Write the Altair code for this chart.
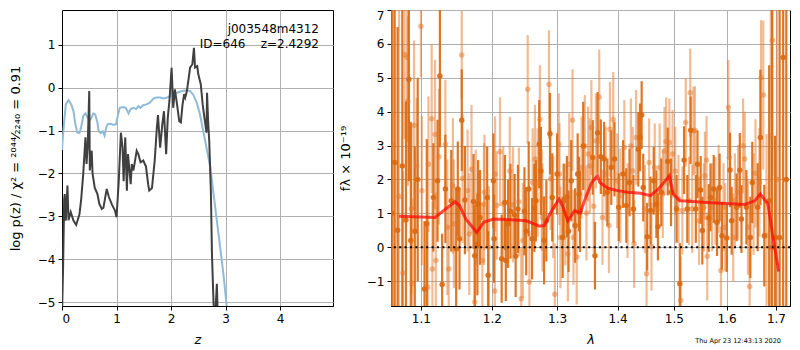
import altair as alt
import pandas as pd

# ---------------- left panel: redshift probability ----------------
z_black = [0.0, 0.02, 0.04, 0.05, 0.07, 0.10, 0.12, 0.16, 0.21, 0.26, 0.32, 0.35, 0.39, 0.43, 0.45,
           0.47, 0.50, 0.51, 0.545, 0.56, 0.60, 0.65, 0.685, 0.73, 0.76, 0.82, 0.86, 0.92, 0.97, 1.0,
           1.04, 1.08, 1.11, 1.13, 1.16, 1.19, 1.21, 1.26, 1.28, 1.31, 1.37, 1.40, 1.44, 1.49, 1.54,
           1.58, 1.60, 1.65, 1.70, 1.74, 1.76, 1.80, 1.84, 1.87, 1.91, 1.94, 1.97, 2.01, 2.04, 2.07,
           2.11, 2.15, 2.18, 2.21, 2.24, 2.26, 2.29, 2.32, 2.35, 2.39, 2.42, 2.44, 2.48, 2.50, 2.545,
           2.58, 2.62, 2.65, 2.66, 2.68, 2.70, 2.73, 2.75, 2.78, 2.80, 2.84, 2.86, 2.90, 3.0]
p_black = [-5.3, -4.2, -2.6, -2.48, -3.1, -2.28, -3.09, -2.9, -3.1, -3.2, -2.95, -2.63, -2.0, -1.16, -1.78,
           -1.40, -0.08, -1.93, -1.47, -2.0, -2.33, -2.48, -2.71, -2.83, -2.8, -2.36, -2.55, -2.74, -2.86, -3.02,
           -2.2, -1.05, -1.39, -2.18, -1.16, -2.4, -1.55, -2.25, -1.78, -1.93, -1.47, -1.55, -1.74, -1.70, -1.84,
           -2.25, -2.40, -2.34, -1.70, -0.93, -0.64, -1.40, -0.85, -0.55, -1.55, -0.70, -0.31, 0.46, -0.47, -0.04,
           -0.39, -0.78, -0.81, -0.40, -0.15, -0.23, -0.08, 0.19, 0.47, 0.54, 0.93, 0.47, 0.5, 0.31, 0.08,
           -0.39, -0.78, -1.05, -0.12, -0.78, -1.24, -2.40, -3.88, -5.04, -5.6, -4.57, -5.5, -7.0, -9.0]

z_blue = [0.0, 0.01, 0.04, 0.07, 0.12, 0.17, 0.21, 0.245, 0.28, 0.32, 0.35, 0.39, 0.43, 0.47, 0.50,
          0.54, 0.575, 0.61, 0.65, 0.67, 0.71, 0.75, 0.78, 0.81, 0.84, 0.89, 0.94, 0.99, 1.03, 1.06,
          1.12, 1.17, 1.22, 1.26, 1.31, 1.36, 1.40, 1.44, 1.49, 1.55, 1.61, 1.68, 1.74, 1.80, 1.86,
          1.93, 1.99, 2.05, 2.11, 2.17, 2.23, 2.29, 2.35, 2.41, 2.47, 2.53, 2.59, 2.65, 2.72, 2.78,
          2.84, 2.90, 2.96, 3.01, 3.05, 3.10]
p_blue = [-1.45, -1.24, -0.78, -0.39, -0.29, -0.39, -0.54, -0.85, -1.05, -1.06, -0.93, -0.66, -0.60, -0.70, -0.78,
          -0.70, -0.60, -0.63, -0.81, -1.01, -1.06, -1.02, -1.12, -0.93, -0.85, -0.84, -0.87, -0.85, -0.62, -0.47,
          -0.45, -0.47, -0.60, -0.50, -0.47, -0.50, -0.43, -0.47, -0.41, -0.39, -0.35, -0.25, -0.23, -0.23, -0.25,
          -0.23, -0.19, -0.14, -0.12, -0.09, -0.07, -0.06, -0.08, -0.17, -0.35, -0.62, -1.01, -1.40, -1.86, -2.48,
          -3.10, -3.72, -4.34, -4.96, -5.5, -6.2]

z_ticks = [0, 1, 2, 3, 4]
logp_ticks = [-5, -4, -3, -2, -1, 0, 1]

# ---------------- right panel: spectrum ----------------
wave_dark = [1.0614, 1.0652, 1.0690, 1.0752, 1.0800, 1.0839, 1.0865, 1.0918, 1.0957, 1.1049,
             1.1080, 1.1169, 1.1227, 1.1259, 1.1290, 1.1335, 1.1417, 1.1486, 1.1509, 1.1533,
             1.1565, 1.1610, 1.1733, 1.1751, 1.1789, 1.1799, 1.1827, 1.1931, 1.1945, 1.2022,
             1.2032, 1.2145, 1.2193, 1.2207, 1.2241, 1.2277, 1.2340, 1.2355, 1.2389, 1.2489,
             1.2515, 1.2554, 1.2606, 1.2641, 1.2666, 1.2717, 1.2743, 1.2793, 1.2829, 1.2886,
             1.2922, 1.2999, 1.3088, 1.3104, 1.3156, 1.3183, 1.3226, 1.3289, 1.3331, 1.3353,
             1.3369, 1.3422, 1.3580, 1.3617, 1.3661, 1.3715, 1.3770, 1.3826, 1.3892, 1.3947,
             1.4020, 1.4094, 1.4150, 1.4206, 1.4274, 1.4360, 1.4390, 1.4419, 1.4447, 1.4517,
             1.4576, 1.4634, 1.4682, 1.4710, 1.4770, 1.4887, 1.4948, 1.5049, 1.5110, 1.5188,
             1.5249, 1.5312, 1.5409, 1.5440, 1.5501, 1.5532, 1.5656, 1.5688, 1.5751, 1.5815,
             1.5865, 1.5910, 1.6006, 1.6069, 1.6101, 1.6199, 1.6263, 1.6296, 1.6395, 1.6474,
             1.6513, 1.6624, 1.6678, 1.6758, 1.6859, 1.6919, 1.6981, 1.7076, 1.7151, 1.7217]
flux_dark = [1.0, 2.5, 0.5, 2.4, 0.8, 4.95, 0.2, 0.47, 2.0, -1.23,
             0.69, 1.47, 1.96, 5.05, -1.10, 1.72, 1.37, -0.05, 1.72, 0.25,
             3.75, 1.39, 1.35, -0.25, 0.08, 1.27, 0.88, 1.47, -0.83, 1.96,
             0.25, -0.34, 1.32, -0.39, 0.69, 1.06, 0.96, -0.27, 1.13, 1.06,
             0.47, 1.72, 0.25, 1.16, 1.37, 3.04, 2.25, 0.2, 0.78, 3.35,
             1.47, 2.16, 0.29, 1.37, 1.49, 0.47, 1.96, 0.64, 2.16, 1.57,
             1.06, 2.99, 2.65, -0.25, 3.38, 2.67, 2.60, 1.62, 2.35, 2.60,
             1.18, 2.16, 1.23, 1.91, 1.13, 2.89, 3.24, 3.90, 1.76, 0.31,
             1.08, 1.96, 1.27, 0.61, 1.62, 2.53, 1.62, 1.13, -1.08, 2.57,
             1.13, 3.45, 1.13, 2.45, 1.69, 0.49, 0.86, 1.47, 1.72, 0.74,
             1.76, 0.34, 0.27, 2.28, 0.78, 1.18, 2.27, 0.83, 1.18, 0.29,
             1.91, 1.18, 3.24, 0.34, 1.37, 0.0, 0.29, 0.29, 5.6, 2.0]
err_dark = [9.0, 9.0, 6.0, 8.0, 3.5, 3.0, 3.5, 2.5, 3.0, 2.0,
            2.5, 1.6, 1.8, 2.1, 1.5, 1.6, 1.5, 1.8, 1.4, 1.5,
            1.5, 1.6, 1.4, 1.5, 1.5, 1.3, 1.4, 1.5, 1.3, 1.4,
            1.3, 1.3, 1.4, 1.2, 1.3, 1.4, 1.2, 1.2, 1.3, 1.3,
            1.3, 1.4, 1.2, 1.3, 1.2, 1.3, 1.3, 1.3, 1.2, 1.2,
            1.3, 1.2, 1.2, 1.1, 1.2, 1.2, 1.2, 1.1, 1.2, 1.1,
            1.2, 1.3, 1.1, 1.0, 1.2, 1.1, 1.1, 1.0, 1.1, 1.1,
            1.0, 1.0, 1.1, 1.0, 1.0, 1.1, 1.0, 1.0, 1.0, 1.0,
            1.0, 1.0, 1.0, 1.0, 1.0, 1.0, 1.0, 1.0, 1.2, 1.0,
            1.0, 1.0, 1.0, 1.0, 1.0, 1.0, 1.0, 1.0, 1.0, 1.0,
            1.0, 1.0, 1.0, 1.1, 1.0, 1.0, 1.1, 1.0, 1.1, 1.2,
            1.2, 1.3, 2.0, 1.5, 4.0, 8.0, 3.0, 9.0, 9.0, 9.0]

wave_light = [1.0633, 1.0709, 1.0761, 1.0783, 1.0817, 1.0826, 1.0874, 1.0884, 1.0908, 1.0944,
              1.1000, 1.1013, 1.1092, 1.1102, 1.1146, 1.1156, 1.1192, 1.1203, 1.1246, 1.1335,
              1.1362, 1.1382, 1.1440, 1.1454, 1.1565, 1.1576, 1.1648, 1.1672, 1.1704, 1.1751,
              1.1765, 1.1860, 1.1884, 1.1892, 1.1956, 1.2043, 1.2047, 1.2072, 1.2120, 1.2168,
              1.2266, 1.2315, 1.2404, 1.2440, 1.2464, 1.2539, 1.2565, 1.2615, 1.2651, 1.2691,
              1.2728, 1.2758, 1.2767, 1.2870, 1.2895, 1.2937, 1.2963, 1.3026, 1.3037, 1.3052,
              1.3130, 1.3172, 1.3194, 1.3247, 1.3262, 1.3315, 1.3395, 1.3449, 1.3475, 1.3503,
              1.3531, 1.3557, 1.3596, 1.3633, 1.3688, 1.3743, 1.3798, 1.3852, 1.3869, 1.3925,
              1.3993, 1.4048, 1.4116, 1.4172, 1.4230, 1.4264, 1.4286, 1.4321, 1.4477, 1.4506,
              1.4552, 1.4594, 1.4652, 1.4740, 1.4798, 1.4828, 1.4858, 1.4917, 1.4976, 1.5025,
              1.5085, 1.5128, 1.5157, 1.5220, 1.5280, 1.5304, 1.5341, 1.5363, 1.5391, 1.5470,
              1.5562, 1.5581, 1.5613, 1.5626, 1.5720, 1.5783, 1.5846, 1.5891, 1.5941, 1.5973,
              1.6036, 1.6055, 1.6132, 1.6166, 1.6230, 1.6328, 1.6361, 1.6426, 1.6460, 1.6539,
              1.6579, 1.6658, 1.6692, 1.6738, 1.6805, 1.6893, 1.6926, 1.7021]
flux_light = [3.0, 1.5, -0.76, 5.69, 5.6, 4.31, 1.13, -1.06, 3.6, 2.4,
              6.52, 1.67, -1.18, 2.45, 3.79, -0.64, 3.33, -0.39, 2.67, 3.04,
              0.59, -0.64, 1.81, 0.69, 5.67, 2.03, 1.67, 0.39, 2.30, -1.62,
              1.18, -0.39, 1.27, 1.62, 0.0, -1.29, 2.16, 1.23, 2.82, 1.27,
              2.25, 1.25, 1.34, -1.52, 0.2, 4.66, -1.03, 1.91, 2.60, 1.91,
              3.77, 1.39, 0.88, 4.80, 2.01, 1.18, -1.39, 3.04, 2.16, 0.29,
              0.96, -0.2, 2.45, 3.75, 0.29, -0.29, 2.35, 2.99, 1.01, 2.75,
              2.40, 3.53, 1.21, 3.14, 4.43, 0.88, 2.16, 0.64, 3.48, 3.77,
              1.96, 1.52, 2.94, 1.08, 2.99, 2.25, 0.1, 3.24, 1.13, -0.78,
              2.50, 0.02, 2.35, 2.35, 1.57, 2.84, 3.12, 3.09, 2.75, 2.25,
              1.42, -1.57, 1.08, 3.68, 1.37, 4.56, 1.13, 3.43, 3.45, 0.78,
              1.18, 2.11, 2.57, -0.27, 1.18, 1.37, 1.72, -0.69, 1.18, 0.59,
              4.12, 2.65, 0.29, 1.37, 1.62, 2.99, 2.60, 0.59, -1.16, 1.27,
              2.18, 1.91, 5.0, 4.49, 0.34, 3.28, 6.11, 2.0]
err_light = [9.0, 8.0, 3.0, 2.5, 2.5, 2.5, 2.5, 2.5, 2.5, 2.0,
             1.5, 2.2, 1.8, 2.0, 2.2, 2.0, 2.2, 2.0, 2.0, 1.9,
             2.0, 1.8, 2.0, 1.9, 1.3, 1.9, 1.8, 1.8, 1.9, 1.6,
             1.7, 1.7, 1.8, 1.7, 1.8, 1.6, 1.7, 1.6, 1.6, 1.7,
             1.6, 1.7, 1.6, 1.5, 1.7, 1.6, 1.5, 1.6, 1.6, 1.6,
             1.6, 1.5, 1.6, 1.6, 1.5, 1.5, 1.5, 1.5, 1.5, 1.5,
             1.5, 1.4, 1.5, 1.5, 1.4, 1.4, 1.5, 1.5, 1.4, 1.4,
             1.4, 1.4, 1.4, 1.4, 1.4, 1.4, 1.4, 1.4, 1.4, 1.4,
             1.4, 1.4, 1.4, 1.4, 1.4, 1.3, 1.3, 1.4, 1.3, 1.3,
             1.3, 1.3, 1.3, 1.3, 1.3, 1.3, 1.3, 1.3, 1.3, 1.3,
             1.3, 1.3, 1.3, 1.3, 1.3, 1.3, 1.3, 1.3, 1.3, 1.3,
             1.3, 1.3, 1.3, 1.3, 1.3, 1.3, 1.3, 1.3, 1.3, 1.3,
             1.4, 1.4, 1.3, 1.4, 1.4, 1.4, 1.4, 1.4, 1.4, 1.5,
             1.6, 1.6, 1.7, 2.2, 3.0, 5.0, 4.0, 9.0]

wave_model = [1.0709, 1.1192, 1.1327, 1.1472, 1.1533, 1.1624, 1.1779, 1.1884, 1.2028, 1.2270,
              1.2518, 1.2720, 1.2797, 1.2900, 1.3029, 1.3083, 1.3171, 1.3282, 1.3373, 1.3453,
              1.3562, 1.3660, 1.3698, 1.3835, 1.4002, 1.4171, 1.4401, 1.4575, 1.4721, 1.4868,
              1.4917, 1.4989, 1.5109, 1.5229, 1.5599, 1.5978, 1.6366, 1.6564, 1.6678, 1.6833,
              1.6934, 1.7057]
flux_model = [0.91, 0.88, 1.11, 1.34, 1.23, 0.83, 0.44, 0.74, 0.83, 0.81,
              0.78, 0.62, 0.64, 1.03, 1.42, 1.23, 0.78, 1.08, 1.01, 1.42,
              1.91, 2.11, 1.91, 1.74, 1.67, 1.62, 1.59, 1.52, 1.72, 2.01,
              2.11, 1.57, 1.37, 1.36, 1.32, 1.29, 1.26, 1.37, 1.57, 1.27,
              0.34, -0.72]

wave_ticks = [1.1, 1.2, 1.3, 1.4, 1.5, 1.6, 1.7]
flux_ticks = [-1, 0, 1, 2, 3, 4, 5, 6, 7]

FONT = "DejaVu Sans"
H = 296
W1 = 271
W2 = 399

# ---- left chart ----
lx = alt.Scale(domain=[0, 4.97], nice=False, zero=False)
ly = alt.Scale(domain=[-5.09, 1.81], nice=False, zero=False)
ax_lx = alt.Axis(values=z_ticks, format="d", title="z", titleFontStyle="italic")
ax_ly = alt.Axis(values=logp_ticks, format="d",
                 title="log p(z) / χ² = ²⁰⁴⁴⁄₂₂₄₀ = 0.91",
                 titleX=-47, titleY=H / 2, titleAngle=270,
                 titleAlign="center", titleBaseline="middle")
lxe = alt.X("z:Q", scale=lx, axis=ax_lx)
lye = alt.Y("p:Q", scale=ly, axis=ax_ly)

blue = alt.Chart(pd.DataFrame({"z": z_blue, "p": p_blue})).mark_line(
    color="#8fbbd9", strokeWidth=2, clip=True).encode(x=lxe, y=lye)
black = alt.Chart(pd.DataFrame({"z": z_black, "p": p_black})).mark_line(
    color="#404040", strokeWidth=2, clip=True).encode(x=lxe, y=lye)
label = alt.Chart(pd.DataFrame({"t": ["j003548m4312\nID=646\u00a0\u00a0\u00a0\u00a0z=2.4292"]})).mark_text(
    align="right", baseline="alphabetic", lineBreak="\n", lineHeight=15,
    font=FONT, fontSize=12, color="black").encode(
    text="t:N", x=alt.value(257), y=alt.value(23))

left = alt.layer(blue, black, label).properties(width=W1, height=H)

# ---- right chart ----
rx = alt.Scale(type="log", domain=[1.0604, 1.7295], nice=False, zero=False)
ry = alt.Scale(domain=[-1.735, 7], nice=False, zero=False)
ax_rx = alt.Axis(values=wave_ticks, format=".1f", title="λ", titleFontStyle="italic")
ax_ry = alt.Axis(values=flux_ticks, format="d", title="fλ × 10⁻¹⁹",
                 titleX=-46, titleY=H / 2, titleAngle=270,
                 titleAlign="center", titleBaseline="middle", labelFlush=1)
rxe = alt.X("wave:Q", scale=rx, axis=ax_rx)


def errbars(wave, flux, err, color, op):
    df = pd.DataFrame({"wave": wave, "flux": flux, "err": err})
    base = alt.Chart(df)
    rules = base.transform_calculate(
        lo="datum.flux - datum.err", hi="datum.flux + datum.err"
    ).mark_rule(color=color, opacity=op, strokeWidth=2.2, clip=True).encode(
        x=rxe, y=alt.Y("lo:Q", scale=ry, axis=ax_ry), y2="hi:Q")
    pts = base.mark_circle(color=color, opacity=op, size=30, clip=True).encode(
        x=rxe, y=alt.Y("flux:Q", scale=ry, axis=ax_ry))
    return rules, pts


lr, lp = errbars(wave_light, flux_light, err_light, "#e5782a", 0.5)
dr, dp = errbars(wave_dark, flux_dark, err_dark, "#da6a12", 0.92)

zero = alt.Chart(pd.DataFrame({"flux": [0]})).mark_rule(
    color="black", strokeDash=[2, 3.4], strokeWidth=2).encode(
    y=alt.Y("flux:Q", scale=ry, axis=ax_ry))
model = alt.Chart(pd.DataFrame({"wave": wave_model, "flux": flux_model})).mark_line(
    color="#ff0000", opacity=0.7, strokeWidth=3, clip=True).encode(
    x=rxe, y=alt.Y("flux:Q", scale=ry, axis=ax_ry))
stamp = alt.Chart(pd.DataFrame({"t": ["Thu Apr 23 12:43:13 2020"]})).mark_text(
    align="right", baseline="alphabetic", font=FONT, fontSize=6.5, color="black").encode(
    text="t:N", x=alt.value(390), y=alt.value(333))

right = alt.layer(lr, dr, lp, dp, zero, model, stamp).properties(width=W2, height=H)

chart = alt.hconcat(left, right, spacing=58, bounds="flush").properties(
    padding={"left": 0, "top": 0, "right": 0, "bottom": 0}
).configure_view(stroke="black", strokeWidth=1).configure_axis(
    labelFont=FONT, labelFontSize=12, labelColor="black",
    titleFont=FONT, titleFontSize=13, titleFontWeight="normal", titleColor="black",
    tickColor="black", tickSize=4, domainColor="black", labelPadding=3,
    grid=True, gridColor="#b0b0b0", gridWidth=1, titlePadding=9
)

chart.save("out.html", embed_options={"renderer": "svg", "actions": False})
